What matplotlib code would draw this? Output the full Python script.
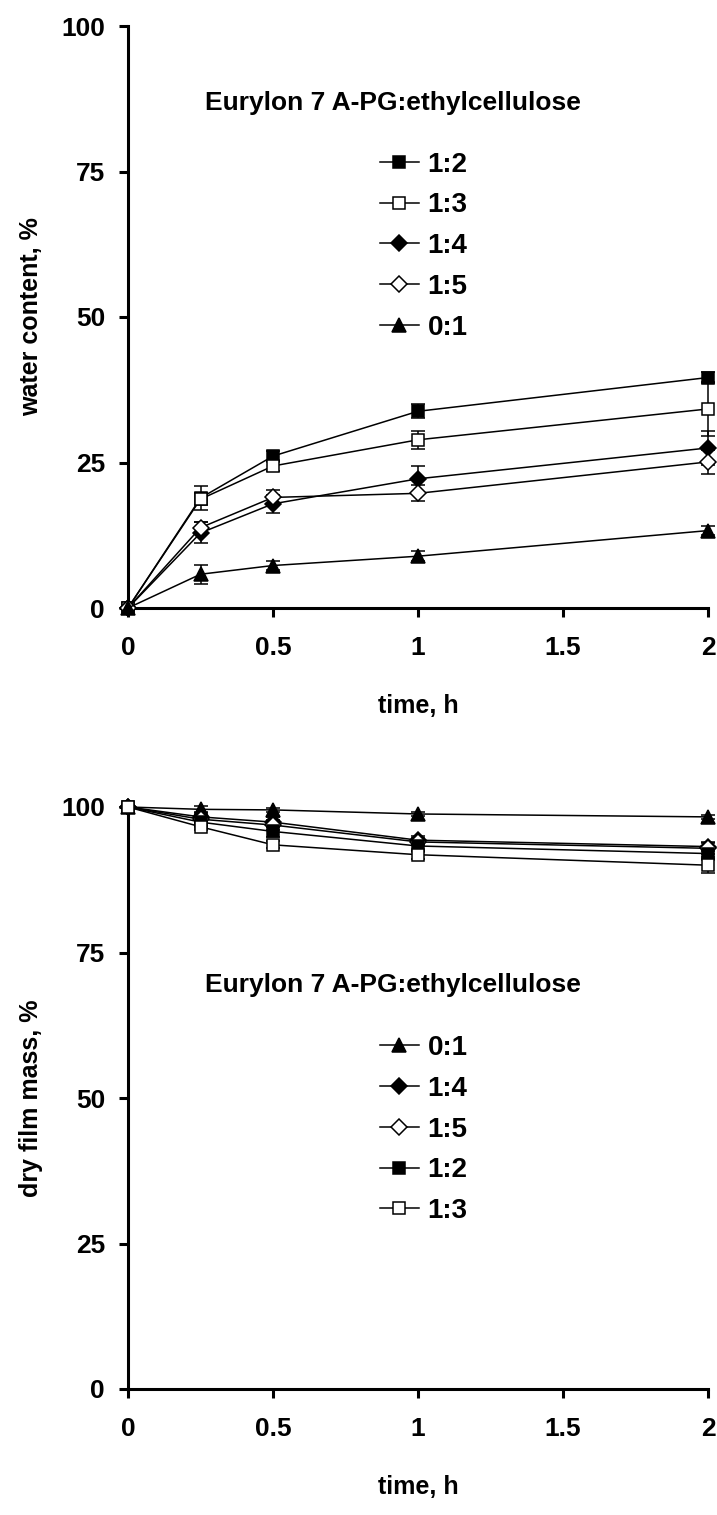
import matplotlib
matplotlib.use("Agg")
import matplotlib.pyplot as plt
from matplotlib.lines import Line2D

plt.rcParams['font.family'] = ['Liberation Sans', 'DejaVu Sans']
plt.rcParams['font.weight'] = 'bold'
plt.rcParams['axes.labelweight'] = 'bold'

# temps (h)
time_h = [0, 0.25, 0.5, 1, 2]
x_ticks = [0, 0.5, 1, 1.5, 2]
x_tick_labels = ["0", "0.5", "1", "1.5", "2"]
y_ticks = [0, 25, 50, 75, 100]

legend_title = "Eurylon 7 A-PG:ethylcellulose"

# teneur en eau, %
water_12 = [0, 18.9, 26.1, 33.8, 39.6]
water_12_err = [0, 2.0, 0.8, 1.2, 1.0]
water_13 = [0, 18.7, 24.4, 28.9, 34.2]
water_13_err = [0, 1.0, 0.8, 1.5, 4.6]
water_14 = [0, 12.9, 17.9, 22.2, 27.5]
water_14_err = [0, 1.8, 1.5, 2.2, 2.9]
water_15 = [0, 13.8, 19.0, 19.7, 25.1]
water_15_err = [0, 1.0, 1.3, 1.4, 2.0]
water_01 = [0, 5.8, 7.3, 8.9, 13.3]
water_01_err = [0, 1.6, 0.7, 0.9, 0.8]

# masse du film sec, %
mass_01 = [100, 99.6, 99.5, 98.8, 98.3]
mass_01_err = [0, 0.5, 0.4, 0.3, 0.4]
mass_14 = [100, 98.3, 97.4, 94.3, 93.2]
mass_14_err = [0, 0.6, 0.8, 0.7, 0.8]
mass_15 = [100, 97.9, 96.9, 94.0, 92.9]
mass_15_err = [0, 0.5, 0.8, 0.6, 0.9]
mass_12 = [100, 97.4, 95.8, 93.3, 92.0]
mass_12_err = [0, 0.7, 1.0, 0.8, 1.0]
mass_13 = [100, 96.6, 93.5, 91.8, 90.0]
mass_13_err = [0, 0.6, 0.6, 0.7, 1.4]

styles = {
    "1:2": dict(marker='s', mfc='black', ms=9),
    "1:3": dict(marker='s', mfc='white', ms=9),
    "1:4": dict(marker='D', mfc='black', ms=8),
    "1:5": dict(marker='D', mfc='white', ms=8),
    "0:1": dict(marker='^', mfc='black', ms=10),
}


def draw_series(ax, label, y, err):
    st = styles[label]
    ax.errorbar(time_h, y, yerr=err, color='black', lw=1.1, elinewidth=1.1,
                capsize=5, capthick=1.1, marker=st['marker'], mfc=st['mfc'],
                mec='black', mew=1.1, ms=st['ms'], clip_on=False, zorder=3)


def style_axes(ax, ylabel):
    ax.set_xlim(0, 2)
    ax.set_ylim(0, 100)
    ax.set_xticks(x_ticks)
    ax.set_xticklabels(x_tick_labels)
    ax.set_yticks(y_ticks)
    for s in ['top', 'right']:
        ax.spines[s].set_visible(False)
    for s in ['left', 'bottom']:
        ax.spines[s].set_linewidth(2.2)
    ax.tick_params(direction='out', length=6.5, width=2.2, labelsize=19)
    ax.tick_params(axis='x', pad=14)
    ax.tick_params(axis='y', pad=10)
    ax.set_xlabel("time, h", fontsize=18, labelpad=24)
    ax.set_ylabel(ylabel, fontsize=18, labelpad=13)


def draw_legend(ax, order, title_y, entries_y):
    ax.text(0.457, title_y, legend_title, transform=ax.transAxes,
            ha='center', va='center', fontsize=19, fontweight='bold')
    handles = []
    for lab in order:
        st = styles[lab]
        handles.append(Line2D([], [], color='black', lw=1.1, marker=st['marker'],
                              mfc=st['mfc'], mec='black', mew=1.1, ms=st['ms'],
                              label=lab))
    ax.legend(handles=handles, loc='upper left', bbox_to_anchor=(0.434, entries_y),
              frameon=False, handlelength=1.4, handletextpad=0.32,
              labelspacing=0.53, borderpad=0, borderaxespad=0,
              prop={'weight': 'bold', 'size': 20})


fig = plt.figure(figsize=(7.17, 15.15), dpi=100)
ax1 = fig.add_axes([128 / 717, 1 - 608 / 1515, 580 / 717, 582 / 1515])
ax2 = fig.add_axes([128 / 717, 1 - 1389 / 1515, 580 / 717, 582 / 1515])

# graphique du haut
draw_series(ax1, "1:2", water_12, water_12_err)
draw_series(ax1, "1:3", water_13, water_13_err)
draw_series(ax1, "1:4", water_14, water_14_err)
draw_series(ax1, "1:5", water_15, water_15_err)
draw_series(ax1, "0:1", water_01, water_01_err)
style_axes(ax1, "water content, %")
draw_legend(ax1, ["1:2", "1:3", "1:4", "1:5", "0:1"], 0.868, 0.784)

# graphique du bas
draw_series(ax2, "0:1", mass_01, mass_01_err)
draw_series(ax2, "1:4", mass_14, mass_14_err)
draw_series(ax2, "1:5", mass_15, mass_15_err)
draw_series(ax2, "1:2", mass_12, mass_12_err)
draw_series(ax2, "1:3", mass_13, mass_13_err)
style_axes(ax2, "dry film mass, %")
draw_legend(ax2, ["0:1", "1:4", "1:5", "1:2", "1:3"], 0.694, 0.608)

fig.savefig("out.png", dpi=100)
